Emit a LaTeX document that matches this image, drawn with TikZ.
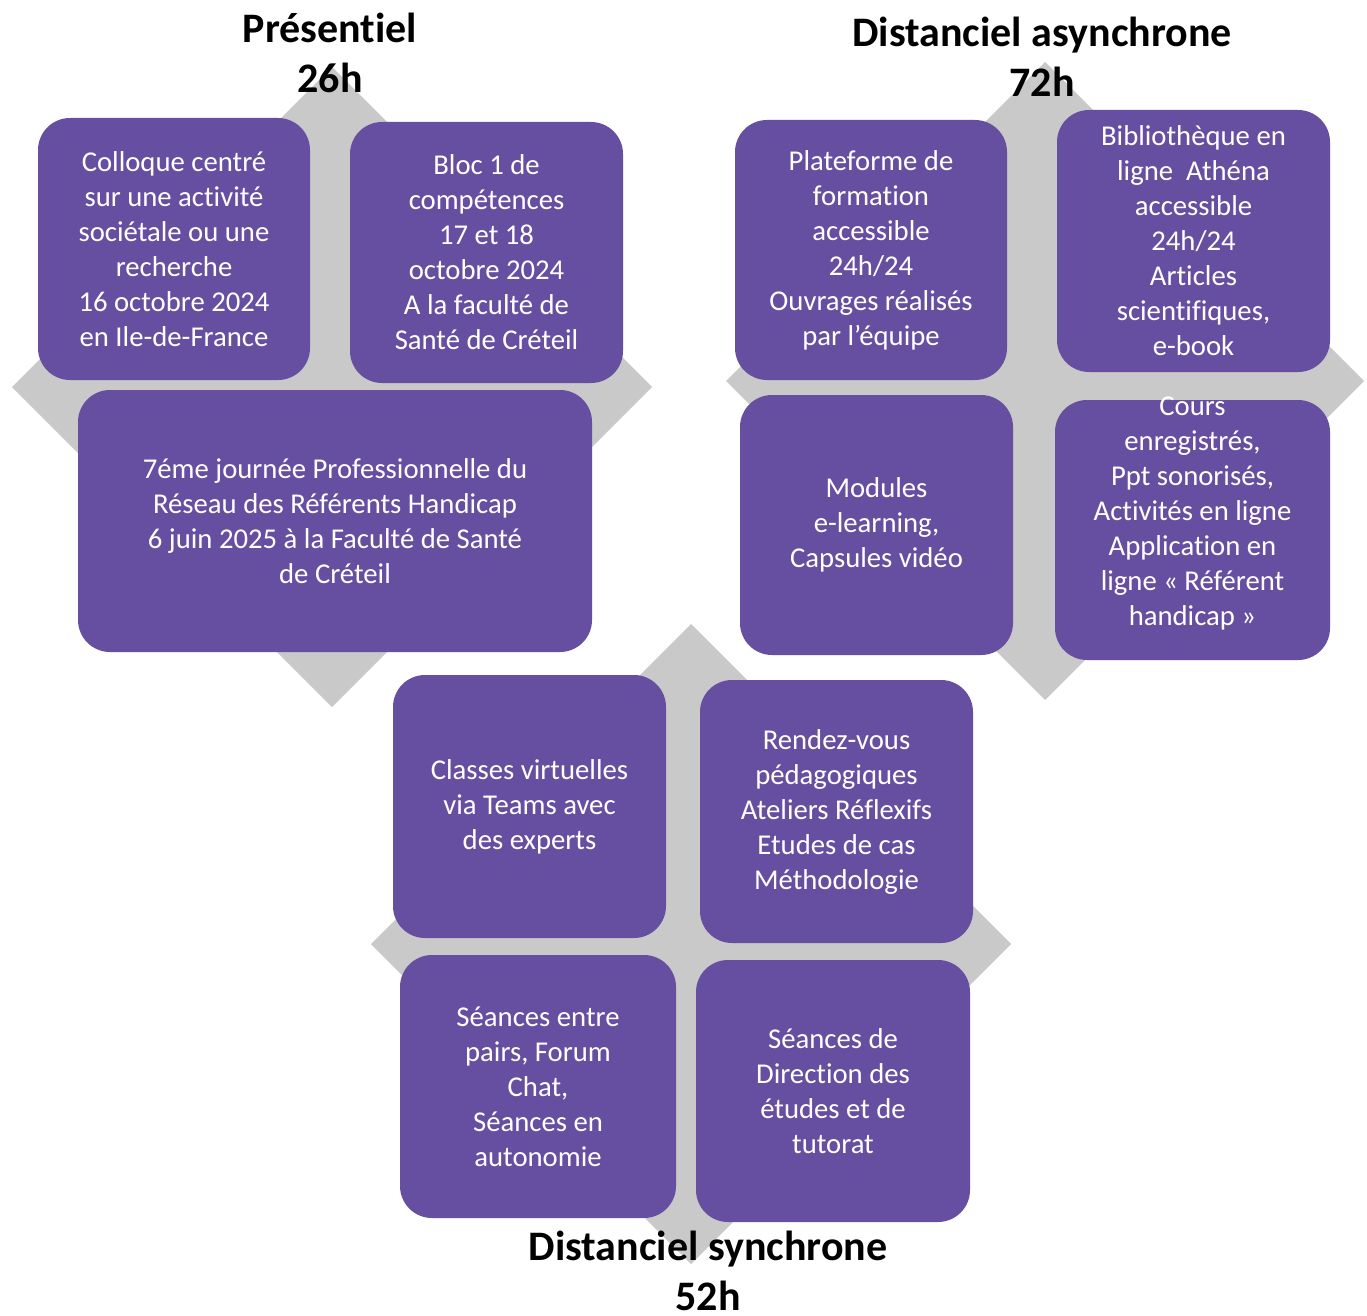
\documentclass[tikz,border=0pt]{standalone}
\usepackage{fontspec}
\setmainfont[Ligatures={NoCommon}]{Carlito}
\usetikzlibrary{calc}
\definecolor{boxpurple}{HTML}{664FA0}
\definecolor{diagray}{HTML}{C9C9C9}
\tikzset{
  box/.style={fill=boxpurple, rounded corners=32pt, inner sep=0pt, align=center,
    text=white, font=\fontsize{28.7}{35}\selectfont},
  btext/.style={inner sep=0pt, align=center, text=white, font=\fontsize{28.7}{35}\selectfont},
  ttl/.style={inner sep=0pt, align=center, anchor=base, font=\fontsize{42}{50}\selectfont\bfseries},
  dia/.style={fill=diagray}
}
\begin{document}
\begin{tikzpicture}[x=1pt,y=-1pt]
\fill[white] (0,0) rectangle (1367,1316);
\useasboundingbox (0,0) rectangle (1367,1316);
% diamonds
\coordinate (c1) at (332,387);
\coordinate (c2) at (1045,381);
\coordinate (c3) at (691,944);
\fill[dia] ($(c1)+(0,-320)$) -- ($(c1)+(320,0)$) -- ($(c1)+(0,320)$) -- ($(c1)+(-320,0)$) -- cycle;
\fill[dia] ($(c2)+(0,-319)$) -- ($(c2)+(319,0)$) -- ($(c2)+(0,319)$) -- ($(c2)+(-319,0)$) -- cycle;
\fill[dia] ($(c3)+(0,-320)$) -- ($(c3)+(320,0)$) -- ($(c3)+(0,320)$) -- ($(c3)+(-320,0)$) -- cycle;
% Présentiel
\node[box, minimum width=272pt, minimum height=262pt] (A) at (174,249)
  {Colloque centré\\sur une activité\\sociétale ou une\\recherche\\16 octobre 2024\\en Ile-de-France};
\node[box, minimum width=273pt, minimum height=261pt] (B) at (486.5,252.5)
  {Bloc 1 de\\compétences\\17 et 18\\octobre 2024\\A la faculté de\\Santé de Créteil};
\node[box, minimum width=514pt, minimum height=262pt] (C) at (335,521)
  {7éme journée Professionnelle du\\Réseau des Référents Handicap\\6 juin 2025 à la Faculté de Santé\\de Créteil};
% Distanciel asynchrone
\node[box, minimum width=272pt, minimum height=260pt] (D) at (871,250)
  {Plateforme de\\formation\\accessible\\24h/24\\Ouvrages réalisés\\par l’équipe};
\node[box, minimum width=273pt, minimum height=262pt] (E) at (1193.5,241)
  {Bibliothèque en\\ligne~ Athéna\\accessible\\24h/24\\Articles\\scientifiques,\\e-book};
\node[box, minimum width=273pt, minimum height=260pt] (F) at (876.5,525)
  {Modules\\e-learning,\\Capsules vidéo};
\node[box, minimum width=275pt, minimum height=260pt] (G) at (1192.5,530) {};
\node[btext] (Gt) at (1192.5,513)
  {Cours\\enregistrés,\\Ppt sonorisés,\\Activités en ligne\\Application en\\ligne « Référent\\handicap »};
% Distanciel synchrone
\node[box, minimum width=273pt, minimum height=263pt] (H) at (529.5,806.5)
  {Classes virtuelles\\via Teams avec\\des experts};
\node[box, minimum width=273pt, minimum height=263pt] (I) at (836.5,811.5)
  {Rendez-vous\\pédagogiques\\Ateliers Réflexifs\\Etudes de cas\\Méthodologie};
\node[box, minimum width=276pt, minimum height=263pt] (J) at (538,1086.5)
  {Séances entre\\pairs, Forum\\Chat,\\Séances en\\autonomie};
\node[box, minimum width=274pt, minimum height=262pt] (K) at (833,1091)
  {Séances de\\Direction des\\études et de\\tutorat};
% titles (anchor = baseline of the second line)
\node[ttl] (T1) at (330,93) {Présentiel\\26h};
\node[ttl] (T2) at (1042,97) {Distanciel asynchrone\\72h};
\node[ttl] (T3) at (708,1310) {Distanciel synchrone\\52h};
\end{tikzpicture}
\end{document}
